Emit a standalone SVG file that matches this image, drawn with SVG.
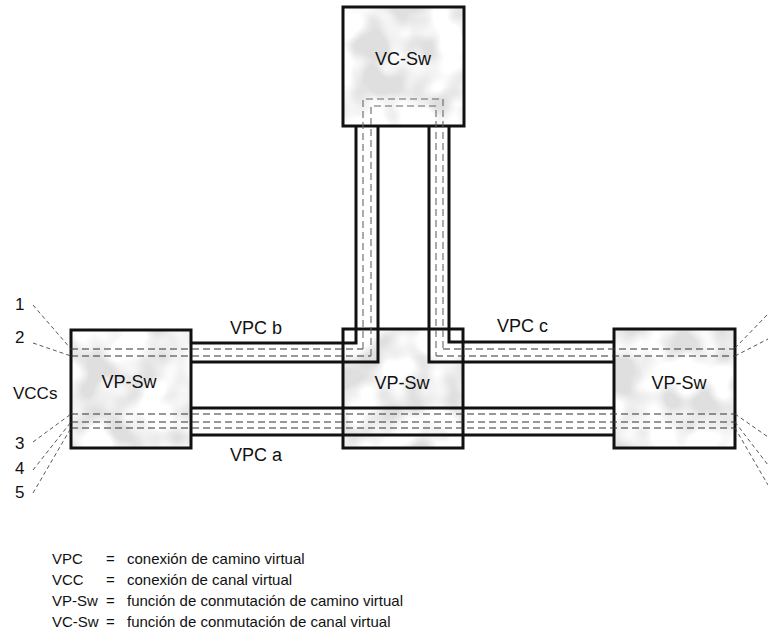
<svg xmlns="http://www.w3.org/2000/svg" width="768" height="637" viewBox="0 0 768 637">
<style>
text{font-family:"Liberation Sans",Arial,sans-serif;fill:#111}
.lbl{font-size:18px}
.sm{font-size:17px}
.leg{font-size:15px}
.box{fill:none;stroke:#111;stroke-width:3}
.bg{fill:#fff}
.mot{fill:#fff;filter:url(#mottle)}
.pipe{fill:none;stroke:#111;stroke-width:3}
.vcc{fill:none;stroke:#333;stroke-width:1.1;stroke-dasharray:7 4}
.vccv{fill:none;stroke:#666;stroke-width:1.1;stroke-dasharray:7 4}
.lead{fill:none;stroke:#444;stroke-width:0.9;stroke-dasharray:4 3}
</style>
<defs>
<filter id="mottle" x="0" y="0" width="100%" height="100%">
<feTurbulence type="fractalNoise" baseFrequency="0.028" numOctaves="2" seed="7" result="n"/>
<feColorMatrix in="n" type="matrix" values="0 0 0 0 0.74  0 0 0 0 0.74  0 0 0 0 0.74  4 0 0 0 -1.6" result="g"/>
<feComposite in="g" in2="SourceGraphic" operator="in"/>
</filter>
</defs>

<g id="vc-sw">
<rect class="bg" x="343" y="7" width="121" height="119"/>
<rect class="mot" x="343" y="7" width="121" height="119"/>
<rect class="box" x="343" y="7" width="121" height="119"/>
<text class="lbl" x="403" y="65" text-anchor="middle">VC-Sw</text>
</g>

<g id="vp-sw-left">
<rect class="bg" x="71" y="330" width="120" height="118"/>
<rect class="mot" x="71" y="330" width="120" height="118"/>
<rect class="box" x="71" y="330" width="120" height="118"/>
<text class="lbl" x="129" y="388" text-anchor="middle">VP-Sw</text>
</g>

<g id="vp-sw-mid">
<rect class="bg" x="343" y="329" width="120" height="119"/>
<rect class="mot" x="343" y="329" width="120" height="119"/>
<rect class="box" x="343" y="329" width="120" height="119"/>
<text class="lbl" x="402" y="389" text-anchor="middle">VP-Sw</text>
</g>

<g id="vp-sw-right">
<rect class="bg" x="614" y="329" width="121" height="119"/>
<rect class="mot" x="614" y="329" width="121" height="119"/>
<rect class="box" x="614" y="329" width="121" height="119"/>
<text class="lbl" x="679" y="389" text-anchor="middle">VP-Sw</text>
</g>

<g id="connectors">
<path class="pipe" d="M191,362 H378 V126 M191,343 H356 V126"/>
<path class="pipe" d="M614,362 H429 V126 M614,342 H449 V126"/>
<path class="pipe" d="M191,408 H614 M191,435 H614"/>
<path class="vcc" d="M71,349 H363 M443,349 H735 M71,356 H371 M436,356 H735"/>
<path class="vccv" d="M363,349 V99 H443 V349 M371,356 V106 H436 V356"/>
<path class="vcc" d="M71,414 H735 M71,422 H735 M71,428 H735"/>
<path class="lead" d="M33,305 L71,349 M33,343 L71,356 M33,442 L71,414 M33,470 L71,422 M33,493 L71,428"/>
<path class="lead" d="M735,348 L768,314 M735,356 L768,339 M735,414 L768,437 M735,422 L768,465 M735,428 L768,485"/>
</g>

<g id="labels">
<text class="lbl" x="230" y="334">VPC b</text>
<text class="lbl" x="497" y="332">VPC c</text>
<text class="lbl" x="230" y="461">VPC a</text>
<text class="sm" x="13" y="399">VCCs</text>
<text class="sm" x="15" y="310">1</text>
<text class="sm" x="15" y="343">2</text>
<text class="sm" x="15" y="449">3</text>
<text class="sm" x="15" y="474">4</text>
<text class="sm" x="15" y="498">5</text>
</g>

<g id="legend">
<text class="leg" x="52" y="564">VPC</text>
<text class="leg" x="106" y="564">=</text>
<text class="leg" x="127" y="564">conexión de camino virtual</text>
<text class="leg" x="52" y="585">VCC</text>
<text class="leg" x="106" y="585">=</text>
<text class="leg" x="127" y="585">conexión de canal virtual</text>
<text class="leg" x="52" y="606">VP-Sw</text>
<text class="leg" x="106" y="606">=</text>
<text class="leg" x="127" y="606">función de conmutación de camino virtual</text>
<text class="leg" x="52" y="627">VC-Sw</text>
<text class="leg" x="106" y="627">=</text>
<text class="leg" x="127" y="627">función de conmutación de canal virtual</text>
</g>
</svg>
